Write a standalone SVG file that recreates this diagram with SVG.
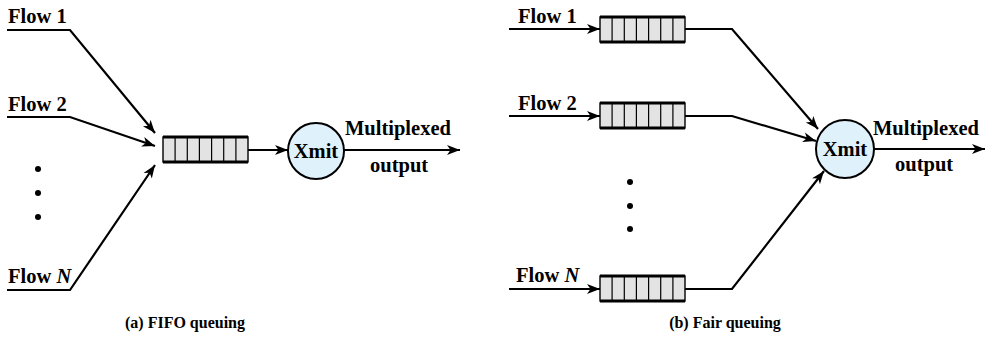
<svg xmlns="http://www.w3.org/2000/svg" width="991" height="338" viewBox="0 0 991 338">
<style>
text{font-family:"Liberation Serif","Times New Roman",serif;font-weight:bold;fill:#000}
.lbl{font-size:20.5px}
.cap{font-size:16px}
.ln{fill:none;stroke:#000;stroke-width:2.2}
.qbox{fill:#e3e3e3;stroke:#000;stroke-width:1.4}
.qedge{stroke:#000;stroke-width:3}
.qdiv{stroke:#000;stroke-width:1.2}
.xm{fill:#dff1fb;stroke:#000;stroke-width:2}
</style>
<defs>
<marker id="ah" markerUnits="userSpaceOnUse" markerWidth="16" markerHeight="12" viewBox="-14 -6 16 12" refX="0" refY="0" orient="auto">
<path d="M0,0 L-13,-5 L-9.5,0 L-13,5 Z" fill="#000"/>
</marker>
<g id="queue">
<rect class="qbox" x="0" y="0" width="85" height="25"/>
<line class="qedge" x1="0" y1="0" x2="85" y2="0"/>
<line class="qedge" x1="0" y1="25" x2="85" y2="25"/>
<line class="qdiv" x1="12.1" y1="0" x2="12.1" y2="25"/>
<line class="qdiv" x1="24.3" y1="0" x2="24.3" y2="25"/>
<line class="qdiv" x1="36.4" y1="0" x2="36.4" y2="25"/>
<line class="qdiv" x1="48.6" y1="0" x2="48.6" y2="25"/>
<line class="qdiv" x1="60.7" y1="0" x2="60.7" y2="25"/>
<line class="qdiv" x1="72.9" y1="0" x2="72.9" y2="25"/>
</g>
</defs>

<g id="connectors">
<polyline class="ln" points="7,30 70,30 155,133" marker-end="url(#ah)"/>
<polyline class="ln" points="7,117 70,117 155,146" marker-end="url(#ah)"/>
<polyline class="ln" points="7,290 70,290 155,165" marker-end="url(#ah)"/>
<line class="ln" x1="248" y1="150" x2="288" y2="150" marker-end="url(#ah)"/>
<line class="ln" x1="344" y1="150" x2="460" y2="150" marker-end="url(#ah)"/>

<line class="ln" x1="509" y1="29" x2="600" y2="29" marker-end="url(#ah)"/>
<line class="ln" x1="509" y1="116" x2="600" y2="116" marker-end="url(#ah)"/>
<line class="ln" x1="509" y1="289" x2="600" y2="289" marker-end="url(#ah)"/>
<polyline class="ln" points="685,29 732,29 818,129" marker-end="url(#ah)"/>
<polyline class="ln" points="685,116 732,116 816,141" marker-end="url(#ah)"/>
<polyline class="ln" points="685,289 732,289 824,171" marker-end="url(#ah)"/>
<line class="ln" x1="874" y1="149" x2="985" y2="149" marker-end="url(#ah)"/>
</g>

<g id="fifo-inputs">
<text class="lbl" x="8" y="23">Flow 1</text>
<text class="lbl" x="8" y="111">Flow 2</text>
<text class="lbl" x="8" y="283">Flow <tspan font-style="italic">N</tspan></text>
<circle cx="38" cy="169" r="3"/>
<circle cx="38" cy="193" r="3"/>
<circle cx="38" cy="217" r="3"/>
</g>
<g id="fifo-queue"><use href="#queue" x="163" y="137"/></g>
<g id="fifo-xmit">
<circle class="xm" cx="316" cy="151" r="28"/>
<text class="lbl" x="316" y="158" text-anchor="middle">Xmit</text>
</g>
<g id="fifo-output">
<text class="lbl" x="345" y="135">Multiplexed</text>
<text class="lbl" x="370" y="172">output</text>
</g>
<text class="cap" x="185" y="328" text-anchor="middle">(a) FIFO queuing</text>

<g id="fair-inputs">
<text class="lbl" x="518" y="23">Flow 1</text>
<text class="lbl" x="518" y="110">Flow 2</text>
<text class="lbl" x="516" y="282">Flow <tspan font-style="italic">N</tspan></text>
<circle cx="630" cy="182" r="3"/>
<circle cx="630" cy="206" r="3"/>
<circle cx="630" cy="229" r="3"/>
</g>
<g id="fair-queue-1"><use href="#queue" x="600" y="17"/></g>
<g id="fair-queue-2"><use href="#queue" x="600" y="103"/></g>
<g id="fair-queue-n"><use href="#queue" x="600" y="276"/></g>
<g id="fair-xmit">
<circle class="xm" cx="845" cy="149" r="29"/>
<text class="lbl" x="845" y="156" text-anchor="middle">Xmit</text>
</g>
<g id="fair-output">
<text class="lbl" x="873" y="135">Multiplexed</text>
<text class="lbl" x="895" y="171">output</text>
</g>
<text class="cap" x="725" y="328" text-anchor="middle">(b) Fair queuing</text>
</svg>
